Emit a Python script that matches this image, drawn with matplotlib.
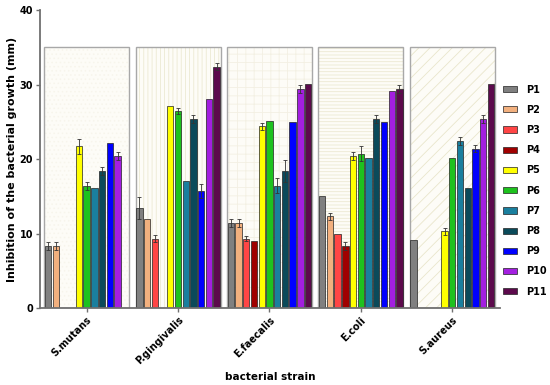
import numpy as np
import matplotlib
matplotlib.use('Agg')
import matplotlib.pyplot as plt
from matplotlib.patches import Rectangle, Patch

# Data (mm); 0 = no bar
strains = ['S.mutans', 'P.gingivalis', 'E.faecalis', 'E.coli', 'S.aureus']
peptides = ['P1', 'P2', 'P3', 'P4', 'P5', 'P6', 'P7', 'P8', 'P9', 'P10', 'P11']

s_mutans = [8.3, 8.3, 0, 0, 21.7, 16.4, 16.1, 18.4, 22.1, 20.4, 0]
p_gingivalis = [13.4, 12.0, 9.3, 0, 27.1, 26.4, 17.1, 25.4, 15.7, 28.1, 32.4]
e_faecalis = [11.4, 11.4, 9.3, 9.0, 24.4, 25.1, 16.4, 18.4, 25.0, 29.4, 30.1]
e_coli = [15.1, 12.3, 10.0, 8.3, 20.4, 20.7, 20.1, 25.4, 25.0, 29.1, 29.4]
s_aureus = [9.1, 0, 0, 0, 10.3, 20.1, 22.4, 16.1, 21.4, 25.4, 30.1]

err_mutans = [0.5, 0.5, 0, 0, 1.0, 0.5, 0, 0.5, 0, 0.5, 0]
err_gingivalis = [1.5, 0, 0.5, 0, 0, 0.4, 0, 0.5, 1.0, 0, 0.5]
err_faecalis = [0.5, 0.5, 0.3, 0, 0.5, 0, 1.0, 1.5, 0, 0.5, 0]
err_coli = [0, 0.5, 0, 0.5, 0.5, 1.0, 0, 0.5, 0, 0, 0.5]
err_aureus = [0, 0, 0, 0, 0.5, 0, 0.5, 0, 0.5, 0.5, 0]

values = [s_mutans, p_gingivalis, e_faecalis, e_coli, s_aureus]
errors = [err_mutans, err_gingivalis, err_faecalis, err_coli, err_aureus]

colors = ['#808080', '#f2b07e', '#ff4545', '#a00000', '#ffff00', '#1ec21e',
          '#1a7f9e', '#0b4a5a', '#0000ff', '#a31fe0', '#5c0a4c']
box_top = 35
hatches = ['....', '||||', '++', '-----', '///']
hatch_colors = ['#f7f5ec', '#ece9d2', '#f3f0e3', '#ece9d2', '#e9e6cc']

fig = plt.figure(figsize=(5.5, 3.85), dpi=100)
ax = fig.add_axes([0.0727, 0.2, 0.836, 0.774])
plt.rcParams['hatch.linewidth'] = 0.6

group_w = 0.93
slot = group_w / len(peptides)
bar_w = slot * 0.82

for i, (vals, errs) in enumerate(zip(values, errors)):
    left = i - group_w / 2
    # background box with hatching
    ax.add_patch(Rectangle((left, 0), group_w, box_top, facecolor='#fdfcf7',
                           edgecolor=hatch_colors[i], hatch=hatches[i], linewidth=0, zorder=0))
    ax.add_patch(Rectangle((left, 0), group_w, box_top, facecolor='none',
                           edgecolor='#a8a8a8', linewidth=1.0, zorder=1))
    for j, (v, e) in enumerate(zip(vals, errs)):
        if v <= 0:
            continue
        x = left + slot * (j + 0.5)
        ax.bar(x, v, width=bar_w, color=colors[j], edgecolor='#222222',
               linewidth=0.5, zorder=2)
        if e > 0:
            ax.errorbar(x, v, yerr=e, fmt='none', ecolor='#333333',
                        elinewidth=0.6, capsize=1.2, capthick=0.6, zorder=3)

ax.set_xlim(-0.51, 4.52)
ax.set_ylim(0, 40)
ax.set_yticks([0, 10, 20, 30, 40])
ax.set_xticks(range(len(strains)))
ax.set_xticklabels(strains, rotation=45, ha='right', rotation_mode='anchor',
                   fontsize=7, fontweight='bold')
for lab in ax.get_yticklabels():
    lab.set_fontsize(7)
    lab.set_fontweight('bold')

for side in ['top', 'right']:
    ax.spines[side].set_visible(False)
for side in ['left', 'bottom']:
    ax.spines[side].set_color('#707070')
    ax.spines[side].set_linewidth(1.3)
ax.tick_params(axis='both', colors='#707070', width=1.0, length=3, pad=2, labelcolor='black')

ax.set_ylabel('Inhibition of the bacterial growth (mm)', fontsize=8, fontweight='bold', labelpad=2)
ax.set_xlabel('bacterial strain', fontsize=7.5, fontweight='bold', labelpad=4)

handles = [Patch(facecolor=c, edgecolor='#222222', linewidth=0.5, label=p)
           for c, p in zip(colors, peptides)]
fig.legend(handles=handles, loc='upper left', bbox_to_anchor=(0.898, 0.803),
           frameon=False, prop={'size': 7, 'weight': 'bold'},
           handlelength=1.5, handleheight=0.6, labelspacing=1.05, handletextpad=0.9)

fig.savefig('out.png', dpi=100)
